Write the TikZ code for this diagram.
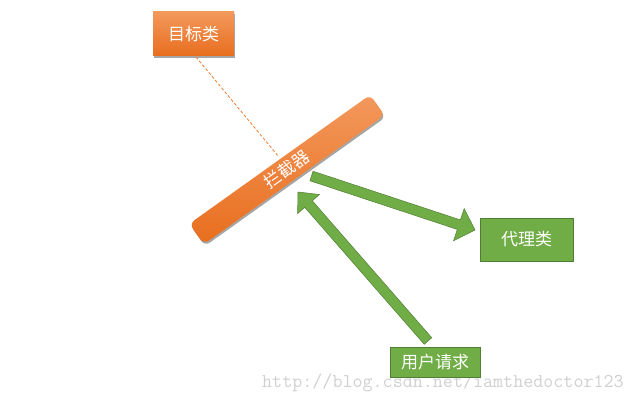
\documentclass[tikz,border=0pt]{standalone}
\usepackage{fontspec}
\newfontfamily\cjk{Noto Sans CJK SC}
\usetikzlibrary{calc,shadows}
\definecolor{org}{RGB}{237,125,49}
\definecolor{orgtop}{RGB}{243,152,92}
\definecolor{orgbot}{RGB}{232,110,30}
\definecolor{grn}{RGB}{112,173,71}
\definecolor{grnd}{RGB}{80,126,50}
\definecolor{wm}{RGB}{208,208,208}
\tikzset{
  orangebox/.style={top color=orgtop, bottom color=orgbot, text=white,
    font=\cjk\fontsize{17}{20}\selectfont, inner sep=0pt,
    drop shadow={shadow xshift=1pt, shadow yshift=-2pt, opacity=0.35, fill=black}},
  greenbox/.style={fill=grn, draw=grnd, line width=0.8pt, text=white,
    font=\cjk\fontsize{17}{20}\selectfont, inner sep=0pt},
  blockarrow/.style={fill=grn, draw=grnd, line width=0.5pt, line join=miter},
  dashline/.style={draw=org, dash pattern=on 3pt off 2pt, line width=0.8pt},
  watermark/.style={text=wm, font=\ttfamily\fontsize{19.5}{20}\selectfont, inner sep=0pt}
}
% #1 tail, #2 tip, #3 half shaft width, #4 half head width, #5 head length
\newcommand\blockarr[5]{%
  \coordinate (ba-h) at ($(#2)!#5!(#1)$);
  \filldraw[blockarrow] ($(#1)!#3!90:(#2)$) -- ($(ba-h)!#3!-90:(#1)$)
    -- ($(ba-h)!#4!-90:(#1)$) -- (#2) -- ($(ba-h)!#4!90:(#1)$)
    -- ($(ba-h)!#3!90:(#1)$) -- ($(#1)!#3!-90:(#2)$) -- cycle;}
\begin{document}
\begin{tikzpicture}[x=1pt,y=1pt]
  \useasboundingbox (0,0) rectangle (632,402);
  % watermark
  \node[watermark, anchor=base west] (wmk) at (262,15) {http://blog.csdn.net/iamthedoctor123};
  % nodes
  \node[orangebox, minimum width=81pt, minimum height=44pt] (target) at (193.5,368) {目标类};
  \node[greenbox, minimum width=93pt, minimum height=43pt] (proxy) at (526.5,162.5) {代理类};
  \node[greenbox, minimum width=90pt, minimum height=30pt] (user) at (435,40) {用户请求};
  % dashed line from target to interceptor
  \coordinate (d1) at (196,345);
  \coordinate (d2) at (279,245);
  \draw[dashline] (d1) -- (d2);
  % interceptor bar
  \node[orangebox, rotate=35.5, minimum width=222pt, minimum height=25pt,
        rounded corners=6pt] (icpt) at (287,232.5) {拦截器};
  % arrows
  \coordinate (a1s) at (311.5,226);
  \coordinate (a1e) at (475,172);
  \blockarr{a1s}{a1e}{5pt}{17pt}{17pt}
  \coordinate (a2s) at (428,61);
  \coordinate (a2e) at (298,210);
  \blockarr{a2s}{a2e}{5pt}{14.5pt}{16pt}
\end{tikzpicture}
\end{document}
